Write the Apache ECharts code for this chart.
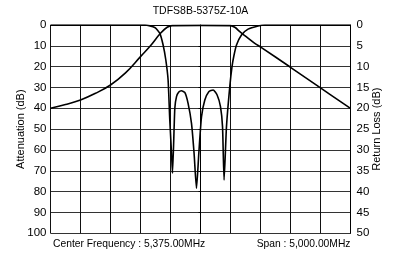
<!DOCTYPE html>
<html>
<head>
<meta charset="utf-8">
<script src="https://cdn.jsdelivr.net/npm/echarts@6/dist/echarts.min.js"></script>
<style>
  html, body { margin: 0; padding: 0; background: #fff; }
  #chart { width: 394px; height: 255px; }
</style>
</head>
<body>
<div id="chart"></div>
<script>
// 中心频率和跨度
const centerMHz = 5375;
const spanMHz = 5000;

// 衰减曲线 (左轴), 频率 MHz
const attFreq = [2875, 3125, 3375, 3625, 3875, 4125, 4375, 4541, 4708, 4819, 4903, 5375, 5875, 5947, 6030, 6113, 6280, 6385, 6875, 7375, 7875];
const attDb   = [40,   38.2, 36,   32.8, 28.8, 23,   15.2, 10,   4,    1.1,  0.3,  0.2,  0.3,  1.1,  3.2,  5.1,  8.8,  10.7, 20.3, 30.2, 40];

// 回波损耗曲线 (右轴)
const rlFreq = [2875, 4450, 4613, 4697, 4752, 4797, 4835, 4863, 4892, 4908, 4947, 4975, 5013, 5058, 5113, 5168, 5225, 5268, 5308,
                5347, 5392, 5447, 5513, 5585, 5652, 5708, 5742, 5768, 5808, 5863, 5900, 5930, 5975, 6058, 6168, 6335, 6447, 7875];
const rlDb   = [0,    0,    0.6,  2,    4.8,  8.4,  13.2, 22.8, 30.8, 35.6, 20,   17.2, 16.1, 15.8, 16.2, 18.8, 23.6, 30.8, 39.2,
                30.8, 22,   18,   16,   15.6, 16.8, 19.6, 24.4, 37.2, 24.4, 14.8, 10,   7.5,  4.8,  2.4,  1.0,  0.24, 0,    0];

// 刻度 [min, max, interval]
const attTicks = [0, 100, 10];
const rlTicks = [0, 50, 5];

const font = "'Liberation Sans', Arial, sans-serif";
const chart = echarts.init(document.getElementById('chart'));

// x轴用相对中心的偏移
const toXY = (fs, vs) => fs.map((f, i) => [f - centerMHz, vs[i]]);

const gridLeft = 50.5, gridTop = 25, gridW = 300, gridH = 208.3;

chart.setOption({
    animation: false,
    grid: { left: gridLeft, top: gridTop, width: gridW, height: gridH },
    xAxis: {
        type: 'value',
        min: -spanMHz / 2,
        max: spanMHz / 2,
        interval: spanMHz / 10,
        axisLine: { show: true, lineStyle: { color: '#000', width: 1 } },
        axisTick: { show: false },
        axisLabel: { show: false },
        splitLine: { show: true, lineStyle: { color: '#111', width: 1 } }
    },
    yAxis: [
        {
            type: 'value',
            min: attTicks[0], max: attTicks[1], interval: attTicks[2],
            inverse: true,
            name: 'Attenuation (dB)',
            nameLocation: 'middle',
            nameRotate: 90,
            nameGap: 24,
            nameMoveOverlap: false,
            nameTextStyle: { color: '#000', fontSize: 11, fontFamily: font },
            axisLine: { show: true, lineStyle: { color: '#000', width: 1 } },
            axisTick: { show: true, length: 2, lineStyle: { color: '#000' } },
            axisLabel: { color: '#000', fontSize: 11.5, fontFamily: font, margin: 4 },
            splitLine: { show: true, lineStyle: { color: '#333', width: 1 } }
        },
        {
            type: 'value',
            min: rlTicks[0], max: rlTicks[1], interval: rlTicks[2],
            inverse: true,
            position: 'right',
            name: 'Return Loss (dB)',
            nameLocation: 'middle',
            nameRotate: 90,
            nameGap: 21,
            nameMoveOverlap: false,
            nameTextStyle: { color: '#000', fontSize: 11, fontFamily: font },
            axisLine: { show: true, lineStyle: { color: '#000', width: 1 } },
            axisTick: { show: false },
            axisLabel: { color: '#000', fontSize: 11.5, fontFamily: font, margin: 6 },
            splitLine: { show: false }
        }
    ],
    graphic: [
        {
            type: 'text', x: gridLeft + gridW / 2, y: 11,
            style: { text: 'TDFS8B-5375Z-10A', fill: '#000', font: '10.5px ' + font, textAlign: 'center', textVerticalAlign: 'middle' }
        },
        {
            type: 'text', x: gridLeft + 2.5, y: 244,
            style: { text: 'Center Frequency : 5,375.00MHz', fill: '#000', font: '10.3px ' + font, textAlign: 'left', textVerticalAlign: 'middle' }
        },
        {
            type: 'text', x: gridLeft + gridW, y: 244,
            style: { text: 'Span : 5,000.00MHz', fill: '#000', font: '10.3px ' + font, textAlign: 'right', textVerticalAlign: 'middle' }
        }
    ],
    series: [
        {
            name: 'Attenuation',
            type: 'line',
            yAxisIndex: 0,
            data: toXY(attFreq, attDb),
            smooth: 0.4,
            symbol: 'none',
            lineStyle: { color: '#000', width: 1.6 }
        },
        {
            name: 'Return Loss',
            type: 'line',
            yAxisIndex: 1,
            data: toXY(rlFreq, rlDb),
            smooth: 0.2,
            symbol: 'none',
            lineStyle: { color: '#000', width: 1.6 }
        }
    ]
});
</script>
</body>
</html>
